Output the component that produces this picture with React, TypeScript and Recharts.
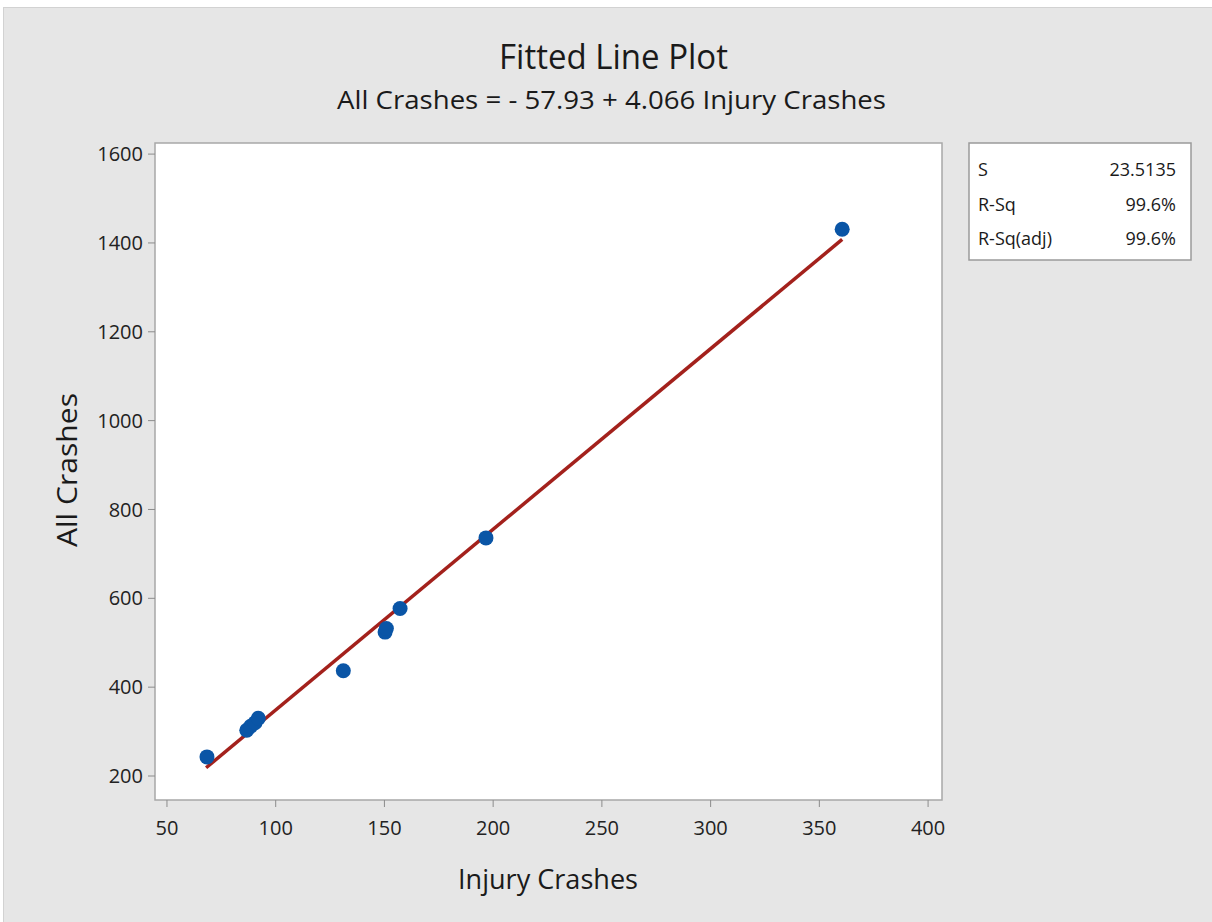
import { ReferenceArea, Scatter, ScatterChart, XAxis, YAxis } from "recharts";

// Minitab fitted line plot: All Crashes vs Injury Crashes
const injuryCrashes = [68.4, 86.7, 88.5, 90.5, 92, 131.1, 150.3, 150.9, 157.2, 196.7, 360.5];
const allCrashes = [243, 303, 312, 320, 330, 437, 524, 532, 577, 736, 1431];

// fitted line ends (All Crashes = -57.93 + 4.066 Injury Crashes)
const fitX = [68, 360.5];
const fitY = [218.6, 1407.9];

const xTicks = [50, 100, 150, 200, 250, 300, 350, 400];
const yTicks = [200, 400, 600, 800, 1000, 1200, 1400, 1600];
const xDomain = [44.5, 406.4];
const yDomain = [146, 1625];

const statLabels = ["S", "R-Sq", "R-Sq(adj)"];
const statValues = ["23.5135", "99.6%", "99.6%"];

const points = injuryCrashes.map((x, i) => ({ x, y: allCrashes[i] }));
const fit = fitX.map((x, i) => ({ x, y: fitY[i] }));

const FONT = '"Open Sans", "Noto Sans", sans-serif';

const Dot = (p: any) => <circle cx={p.cx} cy={p.cy} r={7.5} fill="#0a55a6" />;

export default function App() {
  return (
    <div
      style={{
        position: "fixed",
        left: 0,
        top: 0,
        width: 1212,
        height: 922,
        background: "#fff",
        overflow: "hidden",
        fontFamily: FONT,
      }}
    >
      <div
        style={{
          position: "absolute",
          left: 3,
          top: 7,
          width: 1209,
          height: 915,
          background: "#e6e6e6",
          boxShadow: "inset 1px 1px 0 #d2d2d2",
        }}
      />
      <div style={{ position: "absolute", left: 0, top: 0 }}>
        <ScatterChart width={1212} height={922} margin={{ top: 143, right: 270, bottom: 82, left: 95 }}>
          <XAxis
            type="number"
            dataKey="x"
            domain={xDomain}
            ticks={xTicks}
            allowDataOverflow
            height={40}
            axisLine={false}
            tickLine={{ stroke: "#8c8c8c" }}
            tickSize={7}
            tickMargin={14}
            tick={{ fill: "#222", fontSize: 20, fontFamily: FONT }}
          />
          <YAxis
            type="number"
            dataKey="y"
            domain={yDomain}
            ticks={yTicks}
            allowDataOverflow
            width={60}
            axisLine={false}
            tickLine={{ stroke: "#8c8c8c" }}
            tickSize={7}
            tickMargin={5}
            tick={{ fill: "#222", fontSize: 20, fontFamily: FONT }}
          />
          <ReferenceArea
            x1={xDomain[0]}
            x2={xDomain[1]}
            y1={yDomain[0]}
            y2={yDomain[1]}
            fill="#fff"
            fillOpacity={1}
            stroke="#a8a8a8"
            strokeWidth={1.5}
          />
          <Scatter
            data={fit}
            line={{ stroke: "#a3211c", strokeWidth: 3.5 }}
            shape={() => <g />}
            isAnimationActive={false}
          />
          <Scatter data={points} shape={Dot} isAnimationActive={false} />
        </ScatterChart>
      </div>
      <svg
        width={1212}
        height={922}
        style={{ position: "absolute", left: 0, top: 0, pointerEvents: "none" }}
        fontFamily={FONT}
        fill="#1a1a1a"
      >
        <text x={499} y={69} fontSize={35} textLength={229} lengthAdjust="spacingAndGlyphs">
          Fitted Line Plot
        </text>
        <text x={337} y={109} fontSize={26} textLength={549} lengthAdjust="spacingAndGlyphs">
          All Crashes = - 57.93 + 4.066 Injury Crashes
        </text>
        <text x={458} y={889} fontSize={28} textLength={180} lengthAdjust="spacingAndGlyphs">
          Injury Crashes
        </text>
        <text
          transform="translate(77 547) rotate(-90)"
          fontSize={28}
          textLength={154}
          lengthAdjust="spacingAndGlyphs"
        >
          All Crashes
        </text>
        <rect x={969} y={143} width={222} height={117} fill="#fff" stroke="#9a9a9a" strokeWidth={1.5} />
        {statLabels.map((s, i) => (
          <text key={s} x={978} y={176 + i * 34.5} fontSize={18}>
            {s}
          </text>
        ))}
        {statValues.map((v, i) => (
          <text key={i} x={1176} y={176 + i * 34.5} fontSize={18} textAnchor="end">
            {v}
          </text>
        ))}
      </svg>
    </div>
  );
}
